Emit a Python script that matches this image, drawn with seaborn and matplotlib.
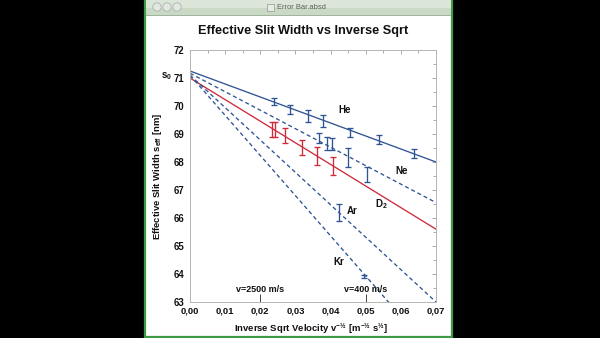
import matplotlib
matplotlib.use("Agg")
import matplotlib.pyplot as plt
import numpy as np
import pandas as pd
import seaborn as sns
from matplotlib.patches import Rectangle, Ellipse
from matplotlib.ticker import MultipleLocator, FuncFormatter
from matplotlib.transforms import blended_transform_factory

# ---------------- data ----------------
fit_x = [0.0, 0.07]
fit_He = [71.25, 68.00]
fit_Ne = [71.17, 66.55]
fit_D2 = [71.00, 65.60]
fit_Ar = [71.10, 63.00]
fit_Kr = [71.10, 61.06]

he_x = [0.0239, 0.0285, 0.0337, 0.0378, 0.0454, 0.0539, 0.0636]
he_y = [70.15, 69.88, 69.64, 69.47, 69.05, 68.81, 68.29]
he_err = [0.12, 0.16, 0.20, 0.21, 0.15, 0.15, 0.16]

ne_x = [0.0366, 0.0389, 0.0404, 0.0451, 0.0503]
ne_y = [68.86, 68.67, 68.64, 68.16, 67.56]
ne_err = [0.17, 0.24, 0.21, 0.33, 0.27]

d2_x = [0.0233, 0.0243, 0.0271, 0.0318, 0.0361, 0.0406]
d2_y = [69.17, 69.15, 68.94, 68.52, 68.22, 67.86]
d2_err = [0.27, 0.27, 0.27, 0.27, 0.33, 0.33]

ar_x = [0.0423]
ar_y = [66.19]
ar_err = [0.31]

kr_x = [0.0494]
kr_y = [63.90]
kr_err = [0.05]

gas_labels = ["He", "Ne", "D$_2$", "Ar", "Kr"]
vel_x = [0.02, 0.05]
vel_labels = ["v=2500 m/s", "v=400 m/s"]

# ---------------- style ----------------
sns.set_theme(style="white")
plt.rcParams["font.family"] = ["Liberation Sans", "DejaVu Sans"]
plt.rcParams["font.weight"] = "bold"
plt.rcParams["mathtext.fontset"] = "custom"
plt.rcParams["mathtext.rm"] = "Liberation Sans:bold"
plt.rcParams["mathtext.it"] = "Liberation Sans:bold"
plt.rcParams["mathtext.bf"] = "Liberation Sans:bold"
plt.rcParams["lines.scale_dashes"] = False

BLUE = "#2f5494"
RED = "#cf2a3a"

W, H = 600, 338
fig = plt.figure(figsize=(6.0, 3.38), dpi=100, facecolor="black")


def fx(x):
    return x / W


def fy(y):
    return 1 - y / H


# window
win_l, win_r, win_t, win_b = 145, 452, 0, 337
fig.patches.append(Rectangle((fx(win_l), fy(win_b)), fx(win_r - win_l), (win_b - win_t) / H,
                             transform=fig.transFigure, facecolor="white",
                             edgecolor="#3f9a45", linewidth=1.6, zorder=0))
fig.patches.append(Rectangle((fx(win_l + 1), fy(8)), fx(win_r - win_l - 2), 8 / H,
                             transform=fig.transFigure, facecolor="#dbe5d8",
                             edgecolor="none", zorder=1))
fig.patches.append(Rectangle((fx(win_l + 1), fy(15)), fx(win_r - win_l - 2), 7 / H,
                             transform=fig.transFigure, facecolor="#cad8c6",
                             edgecolor="none", zorder=1))
fig.patches.append(Rectangle((fx(win_l + 1), fy(15.5)), fx(win_r - win_l - 2), 0.8 / H,
                             transform=fig.transFigure, facecolor="#a2b39f",
                             edgecolor="none", zorder=1))
for cx in (157, 167, 177):
    fig.patches.append(Ellipse((fx(cx), fy(7)), 8.4 / W, 8.4 / H, transform=fig.transFigure,
                               facecolor="#e3e7e2", edgecolor="#aab4a8", linewidth=0.6, zorder=2))
fig.patches.append(Rectangle((fx(267), fy(11)), fx(7), 7 / H, transform=fig.transFigure,
                             facecolor="#e8ece6", edgecolor="#8f978d", linewidth=0.5, zorder=2))
fig.text(fx(277), fy(7.3), "Error Bar.absd", ha="left", va="center", fontsize=5.4,
         color="#5a5f58", fontweight="normal")

fig.text(fx(303), fy(31), "Effective Slit Width vs Inverse Sqrt", ha="center", va="center",
         fontsize=9.2, fontweight="bold", color="#111111")

# axes
ax_l, ax_r, ax_t, ax_b = 190, 436, 50, 302
ax = fig.add_axes([fx(ax_l), fy(ax_b), fx(ax_r - ax_l), (ax_b - ax_t) / H])
ax.set_zorder(5)
ax.set_facecolor("white")

dash = (0, (2.9, 2.1))
fits = [(fit_He, BLUE, "-"), (fit_Ne, BLUE, dash), (fit_D2, RED, "-"),
        (fit_Ar, BLUE, dash), (fit_Kr, BLUE, dash)]
for vals, col, ls in fits:
    sns.lineplot(x=fit_x, y=vals, ax=ax, color=col, linewidth=0.95, linestyle=ls)

pts = [(he_x, he_y, he_err, BLUE), (ne_x, ne_y, ne_err, BLUE), (d2_x, d2_y, d2_err, RED),
       (ar_x, ar_y, ar_err, BLUE), (kr_x, kr_y, kr_err, BLUE)]
for xs, ys, es, col in pts:
    ax.errorbar(xs, ys, yerr=es, fmt="none", ecolor=col, elinewidth=0.95,
                capsize=2.4, capthick=0.95, zorder=4)

# velocity markers
ax.vlines(vel_x, 63.0, 63.27, colors="#444444", linewidth=0.7)
for vx, lab in zip(vel_x, vel_labels):
    ax.text(vx, 63.45, lab, ha="center", va="center", fontsize=6.5, fontweight="bold",
            color="#111111")

label_pos = [(0.0439, 69.86), (0.0601, 67.68), (0.0544, 66.50), (0.0462, 66.25), (0.0422, 64.43)]
for lab, (lx, ly) in zip(gas_labels, label_pos):
    ax.text(lx, ly, lab, ha="center", va="center", fontsize=7, fontweight="bold",
            color="#111111")

tr = blended_transform_factory(ax.transAxes, ax.transData)
ax.text(-0.096, 71.08, "s$_0$", transform=tr, ha="center", va="center", fontsize=7,
        fontweight="bold", color="#111111")

ax.set_xlim(0, 0.07)
ax.set_ylim(63, 72)
ax.xaxis.set_major_locator(MultipleLocator(0.01))
ax.xaxis.set_minor_locator(MultipleLocator(0.005))
ax.yaxis.set_major_locator(MultipleLocator(1))
ax.yaxis.set_minor_locator(MultipleLocator(0.5))
ax.xaxis.set_major_formatter(FuncFormatter(lambda v, p: f"{v:.2f}".replace(".", ",")))
ax.yaxis.set_major_formatter(FuncFormatter(lambda v, p: f"{v:.0f}"))
ax.tick_params(which="both", direction="in", top=True, right=True, color="#9a9a9a", width=0.6)
ax.tick_params(which="major", length=3)
ax.tick_params(which="minor", length=2)
ax.tick_params(axis="x", which="major", labelsize=6.8, pad=3, labelcolor="#111111")
ax.tick_params(axis="y", which="major", labelsize=6.9, pad=4, labelcolor="#111111")
for t in ax.get_xticklabels() + ax.get_yticklabels():
    t.set_fontweight("bold")
for s in ax.spines.values():
    s.set_color("#b5b5b5")
    s.set_linewidth(0.7)

ax.set_xlabel("Inverse Sqrt Velocity v$^{-½}$ [m$^{-½}$ s$^{½}$]", fontsize=6.8,
              fontweight="bold", color="#111111")
ax.set_ylabel("Effective Slit Width s$_{eff}$ [nm]", fontsize=6.8, fontweight="bold",
              color="#111111")
ax.xaxis.label.set_va("center")
ax.yaxis.label.set_va("center")
ax.xaxis.set_label_coords((311 - ax_l) / (ax_r - ax_l), -(329 - ax_b) / (ax_b - ax_t))
ax.yaxis.set_label_coords(-(ax_l - 157.5) / (ax_r - ax_l), 0.5)

fig.savefig("out.png", dpi=100, facecolor=fig.get_facecolor())
